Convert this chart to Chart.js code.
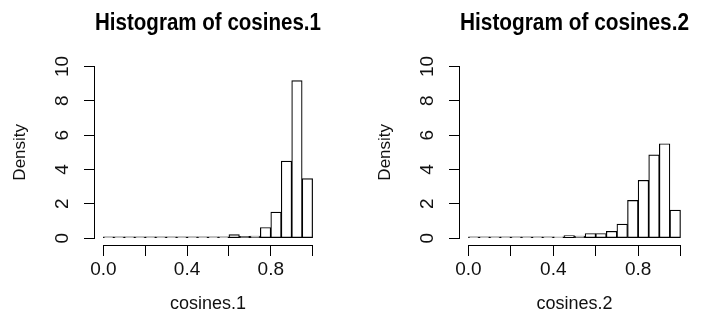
<!DOCTYPE html>
<html>
<head>
<meta charset="utf-8">
<script src="https://cdn.jsdelivr.net/npm/chart.js@4.4.1/dist/chart.umd.min.js"></script>
<style>
  body { margin: 0; background: #fff; }
  .panel { position: absolute; top: 0; height: 320px; }
</style>
</head>
<body>
<div class="panel" style="left:0;width:353px"><canvas id="c1"></canvas></div>
<div class="panel" style="left:353px;width:354px"><canvas id="c2"></canvas></div>
<script>
// histogram bins (width 0.05), bin midpoints
const binMids = [0.025, 0.075, 0.125, 0.175, 0.225, 0.275, 0.325, 0.375, 0.425, 0.475,
                 0.525, 0.575, 0.625, 0.675, 0.725, 0.775, 0.825, 0.875, 0.925, 0.975];
const density1 = [0.01, 0.01, 0.02, 0.01, 0.01, 0.01, 0.01, 0.01, 0.01, 0.01,
                  0.02, 0.04, 0.2, 0.1, 0.12, 0.62, 1.52, 4.49, 9.18, 3.47];
const density2 = [0.04, 0.06, 0.05, 0.03, 0.03, 0.06, 0.07, 0.05, 0.08, 0.15,
                  0.12, 0.27, 0.27, 0.4, 0.82, 2.2, 3.37, 4.85, 5.5, 1.63];
const xTicks = [0, 0.2, 0.4, 0.6, 0.8, 1.0];
const xTickLabels = ['0.0', '', '0.4', '', '0.8', ''];
const yTicks = [0, 2, 4, 6, 8, 10];

const FONT = "'Liberation Sans', Arial, Helvetica, sans-serif";

// R style axes: line only from first to last tick
const rAxes = {
  id: 'rAxes',
  afterDraw(chart) {
    const {ctx, chartArea: a, scales: {x, y}} = chart;
    ctx.save();
    ctx.strokeStyle = '#000';
    ctx.lineWidth = 1;
    ctx.beginPath();
    ctx.moveTo(x.getPixelForValue(xTicks[0]), a.bottom + 0.5);
    ctx.lineTo(x.getPixelForValue(xTicks[xTicks.length - 1]), a.bottom + 0.5);
    ctx.moveTo(a.left - 0.5, y.getPixelForValue(yTicks[0]));
    ctx.lineTo(a.left - 0.5, y.getPixelForValue(yTicks[yTicks.length - 1]));
    ctx.stroke();
    ctx.restore();
  }
};

function makeHist(id, title, xlab, dens, padLeft, padRight) {
  return new Chart(document.getElementById(id), {
    type: 'bar',
    data: {
      datasets: [{
        data: binMids.map((m, i) => ({x: m, y: dens[i]})),
        backgroundColor: '#fff',
        borderColor: '#000',
        borderWidth: 1.2,
        borderSkipped: false,
        minBarLength: 1.2,
        barPercentage: 1,
        categoryPercentage: 1
      }]
    },
    options: {
      responsive: true,
      maintainAspectRatio: false,
      animation: false,
      layout: { padding: { left: padLeft, right: padRight, top: 0, bottom: 0 } },
      plugins: {
        legend: { display: false },
        tooltip: { enabled: false },
        title: {
          display: true, text: title, color: '#000', fullSize: false,
          font: { family: FONT, size: 23, weight: 'bold' },
          padding: { top: 10, bottom: 22 }
        }
      },
      scales: {
        x: {
          type: 'linear', min: -0.04, max: 1.04, offset: false,
          afterBuildTicks: s => { s.ticks = xTicks.map(v => ({value: v})); },
          afterFit: s => { s.height = 75; },
          border: { display: false },
          grid: { offset: false, drawOnChartArea: false, drawTicks: true, tickLength: 11, color: '#000' },
          ticks: {
            color: '#111', padding: 2, maxRotation: 0, autoSkip: false,
            font: { family: FONT, size: 19 },
            callback: (v, i) => xTickLabels[i]
          },
          title: { display: true, text: xlab, color: '#111', font: { family: FONT, size: 18 }, padding: { top: 0, bottom: 5 } }
        },
        y: {
          min: -0.4, max: 10.4,
          afterBuildTicks: s => { s.ticks = yTicks.map(v => ({value: v})); },
          afterFit: s => { s.width = 95; },
          border: { display: false },
          grid: { drawOnChartArea: false, drawTicks: true, tickLength: 11, color: '#000' },
          ticks: {
            color: '#111', padding: 11, minRotation: 90, maxRotation: 90, crossAlign: 'center',
            font: { family: FONT, size: 19 }
          },
          title: { display: true, text: 'Density', color: '#111', font: { family: FONT, size: 17 }, padding: { top: 10, bottom: 0 } }
        }
      }
    },
    plugins: [rAxes]
  });
}

makeHist('c1', 'Histogram of cosines.1', 'cosines.1', density1, 0, 32);
makeHist('c2', 'Histogram of cosines.2', 'cosines.2', density2, 12, 18);
</script>
</body>
</html>
